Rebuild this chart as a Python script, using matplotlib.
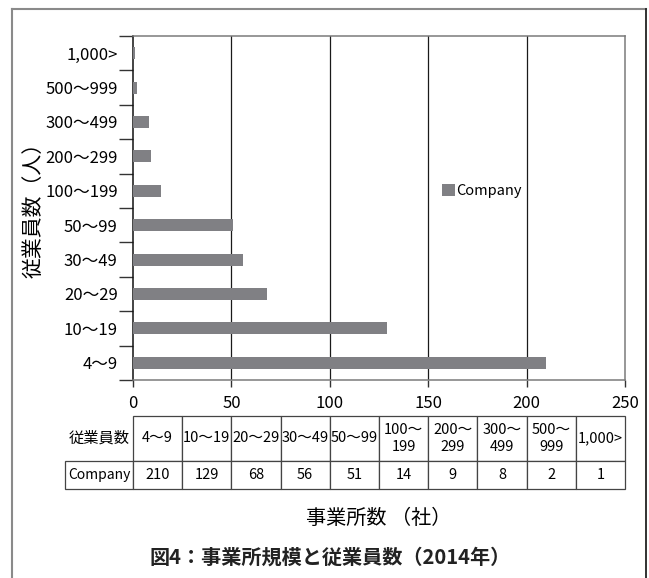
import matplotlib
matplotlib.use('Agg')
import matplotlib.pyplot as plt
from matplotlib.lines import Line2D

plt.rcParams['font.family'] = ['Noto Sans CJK JP', 'DejaVu Sans']

# employee size classes, smallest first (drawn bottom to top)
size_classes = ['4～9', '10～19', '20～29', '30～49', '50～99',
                '100～199', '200～299', '300～499', '500～999', '1,000>']
table_headers = ['4～9', '10～19', '20～29', '30～49', '50～99',
                 '100～\n199', '200～\n299', '300～\n499', '500～\n999', '1,000>']
company_counts = [210, 129, 68, 56, 51, 14, 9, 8, 2, 1]
x_ticks = [0, 50, 100, 150, 200, 250]

W, H = 649, 578
BAR_COLOR = '#808084'

fig = plt.figure(figsize=(W / 100, H / 100), dpi=100)

# outer frame, open at the bottom
fig.add_artist(Line2D([12 / W, 12 / W], [0, 1 - 9 / H], transform=fig.transFigure,
                      color='#8a8a8a', lw=1.5))
fig.add_artist(Line2D([12 / W, 646 / W], [1 - 9 / H, 1 - 9 / H], transform=fig.transFigure,
                      color='#8a8a8a', lw=1.5))
fig.add_artist(Line2D([646 / W, 646 / W], [0, 1 - 9 / H], transform=fig.transFigure,
                      color='#222222', lw=1.3))

ax = fig.add_axes([133 / W, 1 - 380 / H, 492 / W, 344 / H])
ypos = list(range(len(size_classes)))
ax.barh(ypos, company_counts, height=0.35, color=BAR_COLOR, label='Company', zorder=3)

ax.set_xlim(0, 250)
ax.set_ylim(-0.5, len(size_classes) - 0.5)
ax.set_xticks(x_ticks)
ax.set_xticklabels([str(t) for t in x_ticks], fontsize=12)
ax.tick_params(axis='x', length=5, width=1, color='#333333', pad=6)

ax.set_yticks(ypos)
ax.set_yticklabels(size_classes, fontsize=12)
ax.set_yticks([p - 0.5 for p in ypos] + [ypos[-1] + 0.5], minor=True)
ax.tick_params(axis='y', which='major', length=0, pad=11)
ax.tick_params(axis='y', which='minor', length=10, width=1, color='#333333')

for xv in x_ticks[1:-1]:
    ax.axvline(xv, color='#1a1a1a', lw=0.9, zorder=1)

ax.spines['left'].set_color('#111111')
ax.spines['left'].set_linewidth(1.1)
for side in ('top', 'right', 'bottom'):
    ax.spines[side].set_color('#7a7a7a')
    ax.spines[side].set_linewidth(1.1)

ax.legend(loc='center left', bbox_to_anchor=((442 - 133) / 492, (380 - 191) / 344),
          frameon=False, fontsize=10.5, handlelength=0.9, handleheight=0.9,
          handletextpad=0.1, borderpad=0, borderaxespad=0)

# data table on a helper axes: label column (68px) + one 49.2px column per class
tab_w = 68 + 49.2 * len(company_counts)
tab_ax = fig.add_axes([(625 - tab_w) / W, 1 - 416 / H, tab_w / W, 73 / H])
tab_ax.axis('off')
tbl = tab_ax.table(cellText=[['Company'] + [str(c) for c in company_counts]],
                   colLabels=['従業員数'] + table_headers,
                   colWidths=[68 / tab_w] + [49.2 / tab_w] * len(company_counts),
                   cellLoc='center', loc='bottom')
tbl.auto_set_font_size(False)
tbl.set_fontsize(10.5)
for (r, c), cell in tbl.get_celld().items():
    cell.set_height(45 / 73 if r == 0 else 28 / 73)
    cell.set_edgecolor('#444444')
    cell.set_linewidth(0.9)
    cell.get_text().set_linespacing(1.2)
tbl[0, 0].visible_edges = 'open'
tbl[0, 0].get_text().set_fontsize(11)
tbl[1, 0].get_text().set_fontsize(10)

fig.text(34 / W, 1 - 205 / H, '従業員数（人）', rotation=90, ha='center', va='center',
         fontsize=15)
fig.text(379 / W, 1 - 518 / H, '事業所数 （社）', ha='center', va='center', fontsize=14.5)
fig.text(330 / W, 1 - 557 / H, '図4：事業所規模と従業員数（2014年）', ha='center', va='center',
         fontsize=14.5, fontweight='bold', color='#222222')

fig.savefig('out.png', dpi=100)
